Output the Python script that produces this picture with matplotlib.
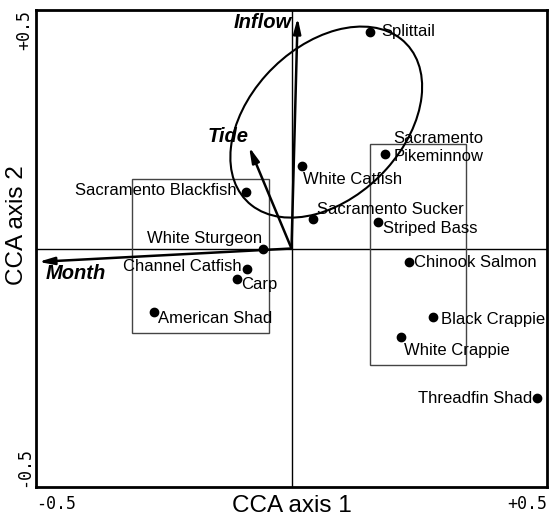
import numpy as np
import matplotlib
matplotlib.use("Agg")
import matplotlib.pyplot as plt
from matplotlib.patches import Ellipse, Rectangle

# species scores (CCA axis 1, CCA axis 2)
species = ["Splittail", "Sacramento\nPikeminnow", "White Catfish", "Sacramento Sucker",
           "Striped Bass", "Chinook Salmon", "Black Crappie", "White Crappie",
           "Threadfin Shad", "Sacramento Blackfish", "White Sturgeon", "Channel Catfish",
           "Carp", "American Shad"]
axis1 = [0.154, 0.182, 0.021, 0.043, 0.169, 0.230, 0.276, 0.214, 0.480,
         -0.089, -0.056, -0.088, -0.107, -0.270]
axis2 = [0.454, 0.199, 0.174, 0.062, 0.056, -0.028, -0.144, -0.186, -0.313,
         0.118, 0.000, -0.043, -0.063, -0.133]

# environmental variable arrows
env = ["Inflow", "Tide", "Month"]
env1 = [0.012, -0.083, -0.495]
env2 = [0.484, 0.213, -0.028]

# species groupings: boxes (x0, x1, y0, y1) and ellipse (cx, cy, w, h, angle)
box_x0 = [-0.3115, 0.153]
box_x1 = [-0.0434, 0.341]
box_y0 = [-0.178, -0.244]
box_y1 = [0.146, 0.219]
ell = (0.068, 0.265, 0.455, 0.307, 50)

# label offsets in pixels (dx, dy, ha)
sp_off = [(11, 0, "left"), (9, 6, "left"), (1, -14, "left"), (4, 9, "left"),
          (5, -7, "left"), (5, -1, "left"), (8, -2, "left"), (3, -13, "left"),
          (-5, -1, "right"), (-9, 2, "right"), (-1, 10, "right"), (-5, 3, "right"),
          (4, -6, "left"), (4, -7, "left")]
env_off = [(-6, -5, "right"), (-1, 10, "right"), (7, -12, "left")]

plt.rcParams["font.family"] = ["Liberation Sans", "DejaVu Sans"]

fig = plt.figure(figsize=(5.52, 5.17), dpi=100)
ax = fig.add_axes([36 / 552, 30 / 517, 511 / 552, 477 / 517])
ax.set_xlim(-0.5, 0.5)
ax.set_ylim(-0.5, 0.5)

ax.axhline(0, color="black", lw=1, zorder=1)
ax.axvline(0, color="black", lw=1, zorder=1)

for x0, x1, y0, y1 in zip(box_x0, box_x1, box_y0, box_y1):
    ax.add_patch(Rectangle((x0, y0), x1 - x0, y1 - y0, fill=False,
                           ec="#444444", lw=1, zorder=2))
cx, cy, w, h, ang = ell
ax.add_patch(Ellipse((cx, cy), w, h, angle=ang, fill=False, ec="black", lw=1.5, zorder=2))

for x, y in zip(env1, env2):
    ax.annotate("", xy=(x, y), xytext=(0, 0),
                arrowprops=dict(arrowstyle="-|>,head_length=0.9,head_width=0.22",
                                color="black", lw=1.8, shrinkA=0, shrinkB=0),
                zorder=3)
for name, x, y, (dx, dy, ha) in zip(env, env1, env2, env_off):
    ax.annotate(name, (x, y), xytext=(dx, dy), textcoords="offset pixels",
                ha=ha, va="center", fontsize=14.5, fontweight="bold",
                fontstyle="italic", zorder=4)

ax.plot(axis1, axis2, "o", color="black", ms=6, zorder=5)
for name, x, y, (dx, dy, ha) in zip(species, axis1, axis2, sp_off):
    ax.annotate(name, (x, y), xytext=(dx, dy), textcoords="offset pixels",
                ha=ha, va="center", fontsize=12, linespacing=1.3, zorder=6)

ax.set_xticks([-0.5, 0.5])
ax.set_xticklabels(["-0.5", "+0.5"], fontfamily="DejaVu Sans Mono", fontsize=12)
ax.set_yticks([-0.5, 0.5])
ax.set_yticklabels(["-0.5", "+0.5"], fontfamily="DejaVu Sans Mono", fontsize=12,
                   rotation=90)
ax.get_xticklabels()[0].set_ha("left")
ax.get_xticklabels()[1].set_ha("right")
ax.get_yticklabels()[0].set_va("bottom")
ax.get_yticklabels()[1].set_va("top")
ax.tick_params(axis="x", length=0, pad=6)
ax.tick_params(axis="y", length=0, pad=2)

ax.set_xlabel("CCA axis 1", fontsize=17.5)
ax.set_ylabel("CCA axis 2", fontsize=17.5)
ax.yaxis.set_label_coords(-0.037, 0.55)
ax.yaxis.label.set_va("center")
ax.xaxis.set_label_coords(0.5, -0.040)
ax.xaxis.label.set_va("center")

for s in ax.spines.values():
    s.set_linewidth(2)

fig.savefig("out.png", dpi=100)
